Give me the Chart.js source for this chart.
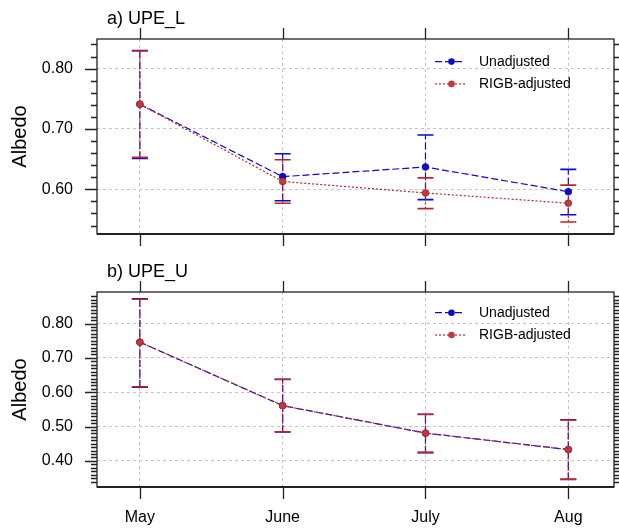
<!DOCTYPE html>
<html><head><meta charset="utf-8">
<script src="https://cdn.jsdelivr.net/npm/chart.js@4/dist/chart.umd.min.js"></script>
<style>
html,body{margin:0;padding:0;background:#fff;width:619px;height:529px;overflow:hidden}
.wrap{position:absolute;left:0}
</style></head><body>
<div class="wrap" style="top:0;width:619px;height:255px"><canvas id="c1" width="619" height="255"></canvas></div>
<div class="wrap" style="top:255px;width:619px;height:274px"><canvas id="c2" width="619" height="274"></canvas></div>
<script>
// ---------- data ----------
const months = ['May', 'June', 'July', 'Aug'];
const seriesNames = ['Unadjusted', 'RIGB-adjusted'];

// a) UPE_L
const lUnadj   = [0.741, 0.621, 0.637, 0.596];
const lUnadjLo = [0.651, 0.581, 0.583, 0.558];
const lUnadjHi = [0.830, 0.659, 0.690, 0.633];
const lRigb    = [0.741, 0.613, 0.594, 0.577];
const lRigbLo  = [0.653, 0.577, 0.568, 0.546];
const lRigbHi  = [0.829, 0.649, 0.619, 0.607];

// b) UPE_U
const uUnadj   = [0.746, 0.561, 0.481, 0.433];
const uUnadjLo = [0.615, 0.484, 0.424, 0.346];
const uUnadjHi = [0.872, 0.638, 0.536, 0.520];
const uRigb    = [0.746, 0.561, 0.481, 0.433];
const uRigbLo  = [0.616, 0.485, 0.425, 0.347];
const uRigbHi  = [0.871, 0.637, 0.535, 0.519];

// axis ticks
const yTicksTop = [0.60, 0.70, 0.80];
const yTicksBottom = [0.40, 0.50, 0.60, 0.70, 0.80];
const minorTop = {from: 0.54, to: 0.84, step: 0.02};
const minorBottom = {from: 0.34, to: 0.88, step: 0.01};

// ---------- styling ----------
const FONT = '"Liberation Sans", Arial, Helvetica, sans-serif';
const BLUE = '#0a0ad0';
const RED = '#b82828';
const GRID = '#c4c4c4';
const styles = [
  {color: BLUE, fill: BLUE, dash: [7, 3]},
  {color: RED, fill: '#c03a3a', dash: [2, 2]}
];

function makePanel(canvasId, cfg) {
  const datasets = cfg.series.map((s, k) => ({
    label: seriesNames[k],
    order: k === 0 ? 1 : 0,
    data: s.values.map((v, i) => ({x: i, y: v})),
    lo: s.lo, hi: s.hi,
    borderColor: styles[k].color,
    backgroundColor: styles[k].fill,
    pointBorderColor: styles[k].color,
    pointBackgroundColor: styles[k].fill,
    borderWidth: 1.2,
    borderDash: styles[k].dash,
    pointRadius: 3.3,
    pointBorderWidth: 1,
    pointHoverRadius: 3.3,
    tension: 0,
    fill: false
  }));

  const panelPlugin = {
    id: 'panel_' + canvasId,
    beforeDatasetsDraw(chart) {
      const ctx = chart.ctx, xs = chart.scales.x, ys = chart.scales.y;
      chart.data.datasets.forEach((ds, k) => {
        ctx.save();
        ctx.strokeStyle = styles[k].color;
        ctx.lineWidth = 1.2;
        ds.data.forEach((p, i) => {
          const x = xs.getPixelForValue(p.x);
          const yl = ys.getPixelForValue(ds.lo[i]);
          const yh = ys.getPixelForValue(ds.hi[i]);
          ctx.setLineDash(styles[k].dash);
          ctx.beginPath(); ctx.moveTo(x, yl); ctx.lineTo(x, yh); ctx.stroke();
          ctx.setLineDash([]);
          ctx.lineWidth = 1.6;
          ctx.beginPath();
          ctx.moveTo(x - 8, yl); ctx.lineTo(x + 8, yl);
          ctx.moveTo(x - 8, yh); ctx.lineTo(x + 8, yh);
          ctx.stroke();
          ctx.lineWidth = 1.2;
        });
        ctx.restore();
      });
    },
    afterDraw(chart) {
      const ctx = chart.ctx, a = chart.chartArea, xs = chart.scales.x, ys = chart.scales.y;
      ctx.save();
      ctx.setLineDash([]);
      ctx.strokeStyle = '#222';
      // frame
      ctx.lineWidth = 1.3;
      ctx.strokeRect(a.left, a.top, a.right - a.left, a.bottom - a.top);
      ctx.lineWidth = 2;
      ctx.beginPath(); ctx.moveTo(a.left, a.bottom); ctx.lineTo(a.right, a.bottom); ctx.stroke();
      ctx.lineWidth = 1.3;
      // y ticks: major and minor, both sides
      const m = cfg.minor;
      ctx.beginPath();
      for (let v = m.from; v <= m.to + 1e-9; v += m.step) {
        const y = Math.round(ys.getPixelForValue(v)) + 0.5;
        ctx.moveTo(a.left - 6, y); ctx.lineTo(a.left, y);
        ctx.moveTo(a.right, y); ctx.lineTo(a.right + 6, y);
      }
      cfg.yTicks.forEach(v => {
        const y = Math.round(ys.getPixelForValue(v)) + 0.5;
        ctx.moveTo(a.left - 12, y); ctx.lineTo(a.left, y);
        ctx.moveTo(a.right, y); ctx.lineTo(a.right + 12, y);
      });
      // x ticks top & bottom
      months.forEach((mn, i) => {
        const x = Math.round(xs.getPixelForValue(i)) + 0.5;
        ctx.moveTo(x, a.top - 11); ctx.lineTo(x, a.top);
        ctx.moveTo(x, a.bottom); ctx.lineTo(x, a.bottom + 12);
      });
      ctx.stroke();
      // panel title
      ctx.fillStyle = '#000';
      ctx.font = '18px ' + FONT;
      ctx.textAlign = 'left';
      ctx.textBaseline = 'middle';
      ctx.fillText(cfg.title, a.left + 10, a.top - 20);
      // legend
      const x0 = a.right - 179;
      chart.data.datasets.forEach((ds, k) => {
        const y = a.top + cfg.legendTop + k * 22.3;
        ctx.strokeStyle = styles[k].color;
        ctx.lineWidth = 1.2;
        ctx.setLineDash(styles[k].dash);
        ctx.beginPath(); ctx.moveTo(x0, y); ctx.lineTo(x0 + 30, y); ctx.stroke();
        ctx.setLineDash([]);
        ctx.fillStyle = styles[k].fill;
        ctx.beginPath(); ctx.arc(x0 + 16.5, y, 3.3, 0, Math.PI * 2); ctx.fill();
        ctx.fillStyle = '#000';
        ctx.font = '14px ' + FONT;
        ctx.fillText(ds.label, x0 + 44, y + 0.5);
      });
      ctx.restore();
    }
  };

  return new Chart(document.getElementById(canvasId), {
    type: 'line',
    data: {datasets},
    plugins: [panelPlugin],
    options: {
      responsive: false,
      devicePixelRatio: 1,
      animation: false,
      events: [],
      layout: {padding: {left: 0, right: 5, top: cfg.padTop, bottom: 0}},
      plugins: {legend: {display: false}, tooltip: {enabled: false}, title: {display: false}},
      scales: {
        x: {
          type: 'linear', min: -0.3, max: 3.32,
          afterBuildTicks: s => { s.ticks = months.map((mn, i) => ({value: i})); },
          afterFit: s => { s.height = cfg.xHeight; s.paddingLeft = 0; s.paddingRight = 0; },
          ticks: {
            display: cfg.xLabels, autoSkip: false, maxRotation: 0,
            callback: (v, i) => months[i],
            color: '#000', font: {family: FONT, size: 16}, padding: 21
          },
          grid: {color: GRID, lineWidth: 1, drawTicks: false},
          border: {display: false, dash: [3, 3]}
        },
        y: {
          type: 'linear', min: cfg.yMin, max: cfg.yMax,
          afterBuildTicks: s => { s.ticks = cfg.yTicks.map(v => ({value: v})); },
          afterFit: s => { s.width = 97; s.paddingTop = 0; s.paddingBottom = 0; },
          ticks: {
            callback: v => v.toFixed(2),
            color: '#000', font: {family: FONT, size: 16}, padding: 24
          },
          grid: {color: GRID, lineWidth: 1, drawTicks: false},
          border: {display: false, dash: [3, 3]},
          title: {display: true, text: 'Albedo', color: '#000',
                  font: {family: FONT, size: 20}, padding: {top: 8, bottom: 0}}
        }
      }
    }
  });
}

makePanel('c1', {
  title: 'a) UPE_L',
  series: [
    {values: lUnadj, lo: lUnadjLo, hi: lUnadjHi},
    {values: lRigb, lo: lRigbLo, hi: lRigbHi}
  ],
  yMin: 0.526, yMax: 0.849, yTicks: yTicksTop, minor: minorTop,
  padTop: 39, xHeight: 21, xLabels: false, legendTop: 22.6
});

makePanel('c2', {
  title: 'b) UPE_U',
  series: [
    {values: uUnadj, lo: uUnadjLo, hi: uUnadjHi},
    {values: uRigb, lo: uRigbLo, hi: uRigbHi}
  ],
  yMin: 0.324, yMax: 0.892, yTicks: yTicksBottom, minor: minorBottom,
  padTop: 37, xHeight: 42, xLabels: true, legendTop: 20.7
});
</script>
</body></html>
